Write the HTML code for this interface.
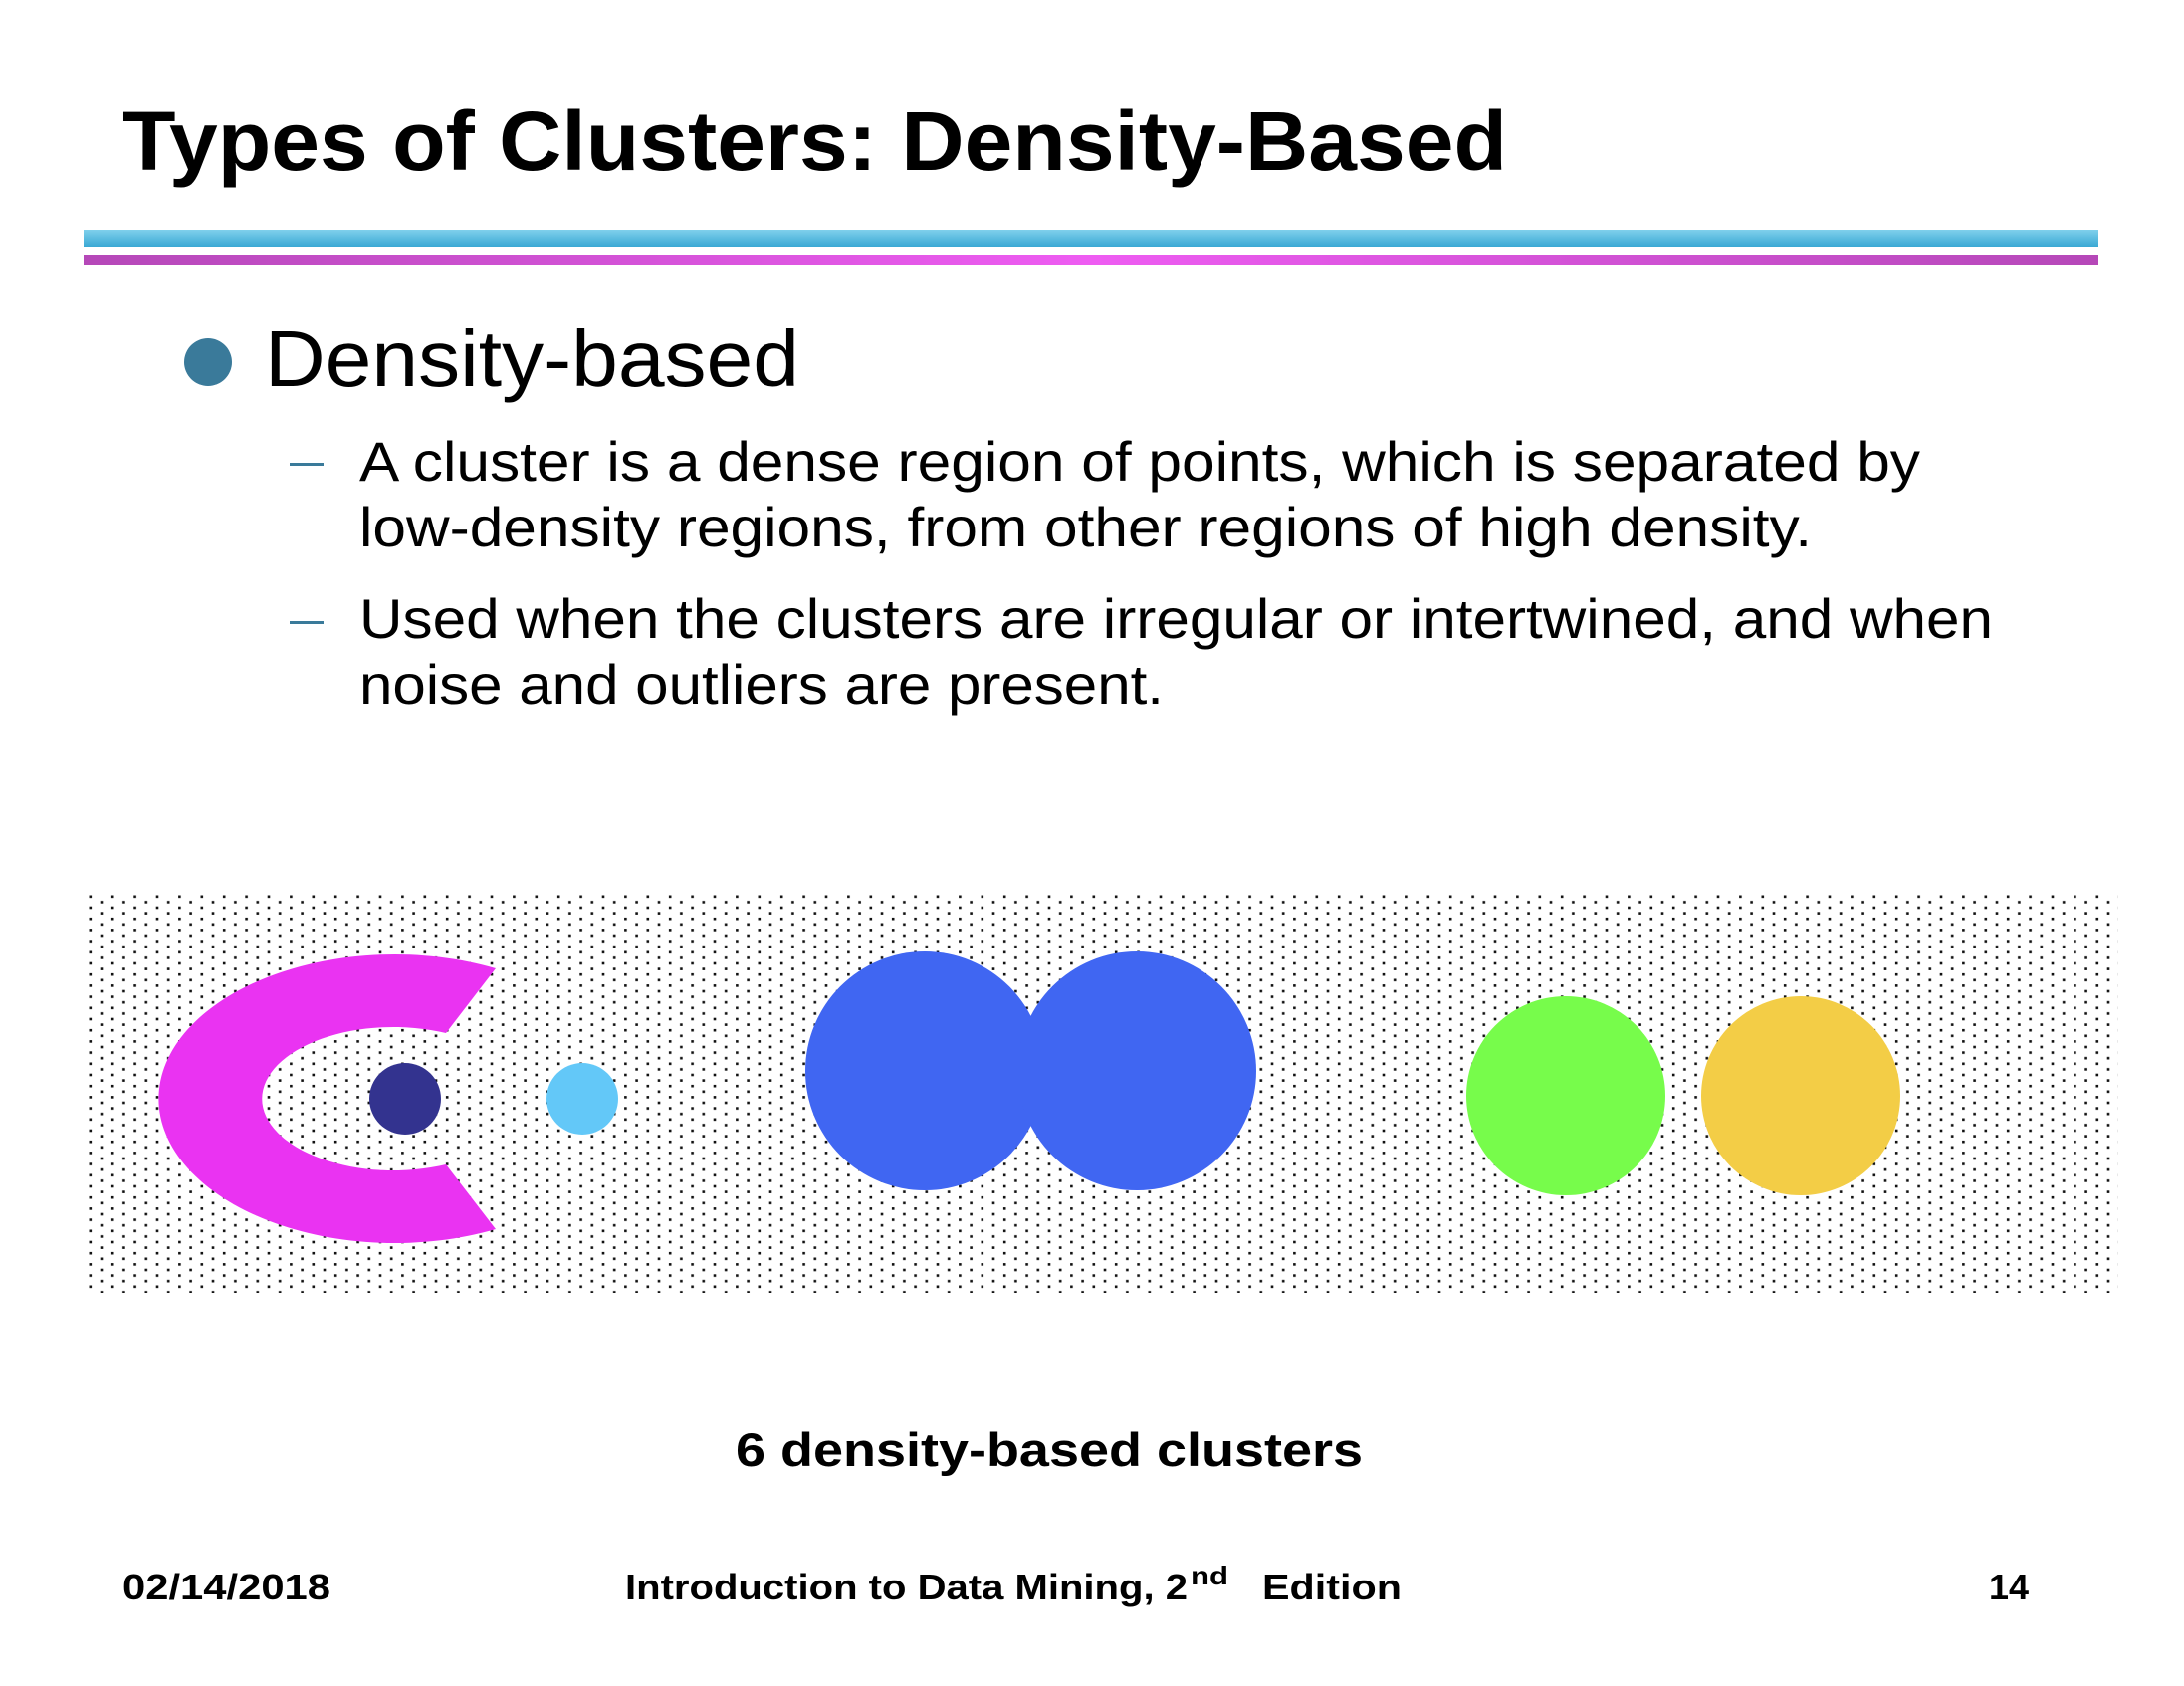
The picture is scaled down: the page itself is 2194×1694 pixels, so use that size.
<!DOCTYPE html>
<html><head><meta charset="utf-8"><style>
html,body{margin:0;padding:0;background:#fff;}
svg{display:block;}
text{font-family:"Liberation Sans",sans-serif;}
</style></head><body>
<svg id="slide" width="2194" height="1694" viewBox="0 0 2194 1694" xmlns="http://www.w3.org/2000/svg">
<defs>
<pattern id="dots" x="89.5" y="899.5" width="22.4" height="11.2" patternUnits="userSpaceOnUse">
<rect x="0" y="0" width="2.6" height="2.6" fill="#111"/>
<rect x="11.2" y="5.6" width="2.6" height="2.6" fill="#111"/>
</pattern>
<linearGradient id="pg" x1="0" x2="1" y1="0" y2="0">
<stop offset="0" stop-color="#b548b8"/><stop offset="0.5" stop-color="#ee5cf2"/><stop offset="1" stop-color="#b548b8"/>
</linearGradient>
<linearGradient id="bg" x1="0" x2="0" y1="0" y2="1">
<stop offset="0" stop-color="#7fd0ec"/><stop offset="1" stop-color="#3aa8d4"/>
</linearGradient>
</defs>
<text x="123" y="171" font-size="84" font-weight="bold" textLength="1391" lengthAdjust="spacingAndGlyphs">Types of Clusters: Density-Based</text>
<rect x="84" y="231" width="2024" height="17" fill="url(#bg)"/>
<rect x="84" y="256" width="2024" height="10" fill="url(#pg)"/>
<circle cx="209" cy="364" r="24" fill="#3a7a9a"/>
<text x="266" y="388" font-size="80" textLength="537" lengthAdjust="spacingAndGlyphs">Density-based</text>
<rect x="291" y="465" width="34" height="3" fill="#3a7a9a"/>
<rect x="291" y="624" width="34" height="3" fill="#3a7a9a"/>
<g font-size="56">
<text x="361" y="483" textLength="1568" lengthAdjust="spacingAndGlyphs">A cluster is a dense region of points, which is separated by</text>
<text x="361" y="549" textLength="1459" lengthAdjust="spacingAndGlyphs">low-density regions, from other regions of high density.</text>
<text x="361" y="641" textLength="1641" lengthAdjust="spacingAndGlyphs">Used when the clusters are irregular or intertwined, and when</text>
<text x="361" y="707" textLength="808" lengthAdjust="spacingAndGlyphs">noise and outliers are present.</text>
</g>
<rect x="88" y="898" width="2040" height="401" fill="url(#dots)"/>
<path fill="#ea33f2" d="M498,973 A237,145 0 1 0 498,1235 L448,1170 A132,72 0 1 1 448,1038 Z"/>
<g id="clusters"></g>
<text x="739" y="1473" font-size="47" font-weight="bold" textLength="630" lengthAdjust="spacingAndGlyphs">6 density-based clusters</text>
<text x="123" y="1607" font-size="36" font-weight="bold" textLength="209" lengthAdjust="spacingAndGlyphs">02/14/2018</text>
<text x="628" y="1607" font-size="36" font-weight="bold" textLength="565" lengthAdjust="spacingAndGlyphs">Introduction to Data Mining, 2</text>
<text x="1196" y="1592" font-size="26" font-weight="bold" textLength="38" lengthAdjust="spacingAndGlyphs">nd</text>
<text x="1268" y="1607" font-size="36" font-weight="bold" textLength="140" lengthAdjust="spacingAndGlyphs">Edition</text>
<text x="1998" y="1607" font-size="36" font-weight="bold">14</text>
</svg>
<script>
const clusterNames = ['navy-dot','light-blue-dot','blue-left','blue-right','green','yellow'];
const clusterX = [407, 585, 929, 1142, 1573, 1809];
const clusterY = [1104, 1104, 1076, 1076, 1101, 1101];
const clusterR = [36, 36, 120, 120, 100, 100];
const clusterColors = ['#33338f','#63c8f8','#4066f2','#4066f2','#77fc4b','#f3cd46'];
const g = document.getElementById('clusters');
for (let i = 0; i < clusterNames.length; i++) {
  const c = document.createElementNS('http://www.w3.org/2000/svg','ellipse');
  c.setAttribute('cx', clusterX[i]);
  c.setAttribute('cy', clusterY[i]);
  c.setAttribute('rx', clusterR[i]);
  c.setAttribute('ry', clusterR[i]);
  c.setAttribute('fill', clusterColors[i]);
  
  
  g.appendChild(c);
}
</script>
</body></html>
